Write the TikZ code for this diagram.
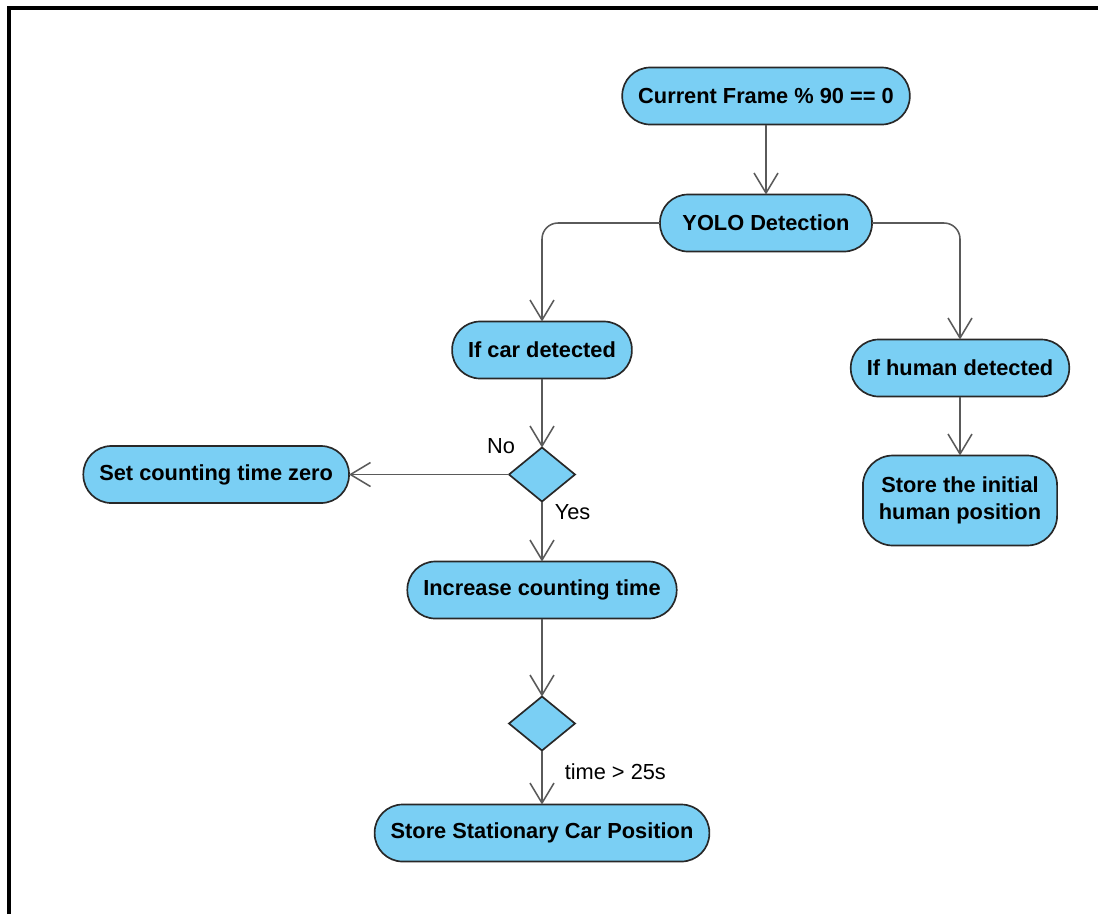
\documentclass[tikz,border=0pt]{standalone}
\usepackage{fontspec}
\setmainfont{Liberation Sans}
\usepackage{xcolor}
\usetikzlibrary{arrows.meta,positioning,shapes.geometric}

\definecolor{boxblue}{RGB}{122,207,244}
\definecolor{boxedge}{RGB}{40,40,40}
\definecolor{linkgray}{RGB}{90,90,90}

\begin{document}
\begin{tikzpicture}[
    node distance=1.75cm,
    action/.style={draw=boxedge, line width=1.2pt, fill=boxblue, rounded corners=0.7cm, minimum height=1.425cm, inner xsep=0.4cm, outer sep=0pt, align=center, font=\fontsize{15.5pt}{19pt}\selectfont\bfseries},
    decision/.style={draw=boxedge, line width=1.2pt, fill=boxblue, diamond, minimum width=1.65cm, minimum height=1.35cm, inner sep=0pt, outer sep=0pt},
    link/.style={draw=linkgray, line width=1.1pt, -{Straight Barb[length=0.5cm, width=0.6cm]}},
    lbl/.style={inner sep=0pt, font=\fontsize{15.5pt}{19pt}\selectfont}
]
\useasboundingbox (0,0) rectangle (27.45,-22.85);

% Frame
\draw[line width=3.5pt] (0.225,-22.85) -- (0.225,-0.2) -- (27.45,-0.2);

% Start and Detection
\node[action] (frame) at (19.15,-2.4) {Current Frame \% 90 == 0};
\node[action, minimum width=5.3cm, below=of frame] (yolo) {YOLO Detection};

% Car Branch
\node[action, below=of yolo, xshift=-5.6cm] (car) {If car detected};
\node[decision, below=1.725cm of car] (check) {};
\node[action, left=4cm of check] (reset) {Set counting time zero};
\node[action, below=1.5cm of check] (count) {Increase counting time};
\node[decision, below=1.95cm of count] (timer) {};
\node[action, below=1.35cm of timer] (stationary) {Store Stationary Car Position};

% Human Branch
\node[action, below=2.2cm of yolo, xshift=4.85cm] (human) {If human detected};
\node[action, rounded corners=0.75cm, minimum height=2.25cm, below=1.475cm of human] (init) {Store the initial\\human position};

% Connections
\draw[link] (frame) -- (yolo);
\draw[link, rounded corners=0.4cm] (yolo.west) -| (car.north);
\draw[link, rounded corners=0.4cm] (yolo.east) -| (human.north);

\draw[link] (car) -- (check);
\draw[link] (check) -- node[lbl, pos=0, xshift=-0.2cm, yshift=0.7cm] {No} (reset);
\draw[link] (check) -- node[lbl, pos=0.17, right=0.3cm] {Yes} (count);
\draw[link] (count) -- (timer);
\draw[link] (timer) -- node[lbl, pos=0.4, right=0.55cm] {time > 25s} (stationary);

\draw[link] (human) -- (init);

\end{tikzpicture}
\end{document}
